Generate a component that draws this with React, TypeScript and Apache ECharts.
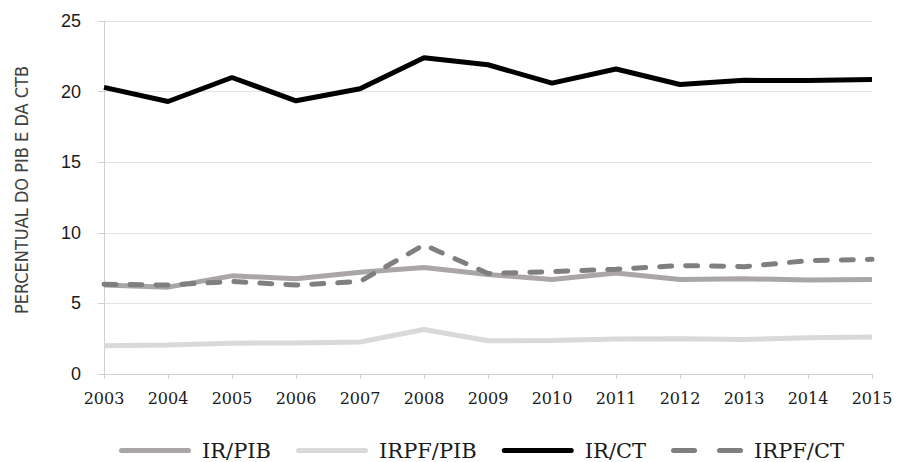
import React, { useEffect, useRef } from "react";
import * as echarts from "echarts";

const years = ["2003","2004","2005","2006","2007","2008","2009","2010","2011","2012","2013","2014","2015"];
const irPib = [6.3, 6.15, 6.95, 6.75, 7.2, 7.55, 7.05, 6.7, 7.15, 6.7, 6.75, 6.65, 6.7];
const irpfPib = [2.0, 2.05, 2.18, 2.2, 2.27, 3.15, 2.35, 2.38, 2.47, 2.5, 2.45, 2.57, 2.62];
const irCt = [20.3, 19.3, 21.0, 19.35, 20.2, 22.4, 21.9, 20.6, 21.6, 20.5, 20.8, 20.78, 20.85];
const irpfCt = [6.35, 6.3, 6.55, 6.3, 6.55, 9.15, 7.12, 7.25, 7.42, 7.68, 7.6, 8.03, 8.12];
const seriesNames = ["IR/PIB", "IRPF/PIB", "IR/CT", "IRPF/CT"];
const yTicks = [0, 5, 10, 15, 20, 25];
const yAxisTitle = "PERCENTUAL DO PIB E DA CTB";

const solidIcon =
  "path://M2.5,0 L69.5,0 A2.5,2.5 0 0 1 69.5,5 L2.5,5 A2.5,2.5 0 0 1 2.5,0 Z";
const dashedIcon =
  "path://M2.5,0 L23.5,0 A2.5,2.5 0 0 1 23.5,5 L2.5,5 A2.5,2.5 0 0 1 2.5,0 Z M48.5,0 L69.5,0 A2.5,2.5 0 0 1 69.5,5 L48.5,5 A2.5,2.5 0 0 1 48.5,0 Z";

export default function App() {
  const ref = useRef<HTMLDivElement>(null);
  useEffect(() => {
    const chart = echarts.init(ref.current!, null, { renderer: "svg" });
    const mk = (name: string, data: number[], color: string, dashed = false) => ({
      name,
      type: "line",
      data,
      symbol: "none",
      lineStyle: {
        color,
        width: 5,
        cap: dashed ? "round" : "butt",
        type: dashed ? [12, 14] : "solid",
      },
      itemStyle: { color },
    });
    chart.setOption({
      animation: false,
      backgroundColor: "#ffffff",
      grid: { left: 104, right: 25, top: 21, bottom: 88, containLabel: false },
      xAxis: {
        type: "category",
        data: years,
        boundaryGap: false,
        axisLine: { lineStyle: { color: "#d0d0d0", width: 1 } },
        axisTick: { show: true, length: 5, lineStyle: { color: "#d0d0d0" } },
        axisLabel: {
          fontFamily: "DejaVu Serif",
          fontSize: 16,
          color: "#1a1a1a",
          margin: 16,
        },
        splitLine: { show: false },
      },
      yAxis: {
        type: "value",
        min: yTicks[0],
        max: yTicks[yTicks.length - 1],
        interval: 5,
        axisLine: { show: true, lineStyle: { color: "#d0d0d0", width: 1 } },
        axisTick: { show: true, length: 6, inside: false, lineStyle: { color: "#d0d0d0" } },
        axisLabel: {
          fontFamily: "Liberation Sans",
          fontSize: 18,
          color: "#1a1a1a",
          margin: 23,
        },
        splitLine: { show: true, lineStyle: { color: "#e3e3e3", width: 1 } },
      },
      legend: {
        data: [
          { name: seriesNames[0], icon: solidIcon },
          { name: seriesNames[1], icon: solidIcon },
          { name: seriesNames[2], icon: solidIcon },
          { name: seriesNames[3], icon: dashedIcon },
        ],
        top: 440,
        left: 114,
        padding: [0, 5, 0, 5],
        itemWidth: 72,
        itemHeight: 5,
        itemGap: 25,
        textStyle: {
          fontFamily: "DejaVu Serif",
          fontSize: 21,
          lineHeight: 21,
          color: "#1a1a1a",
          padding: [0, 0, 0, 6],
        },
      },
      graphic: [
        {
          type: "text",
          x: 21,
          y: 190,
          rotation: Math.PI / 2,
          style: {
            text: yAxisTitle,
            fontFamily: "DejaVu Sans Condensed, DejaVu Sans",
            fontWeight: 300,
            fontSize: 18,
            fill: "#404040",
            align: "center",
            verticalAlign: "middle",
          },
        },
      ],
      series: [
        mk(seriesNames[0], irPib, "#aaa6a6"),
        mk(seriesNames[1], irpfPib, "#d9d9d9"),
        mk(seriesNames[2], irCt, "#000000"),
        mk(seriesNames[3], irpfCt, "#7f7f7f", true),
      ],
    });
    return () => chart.dispose();
  }, []);
  return <div ref={ref} style={{ position: "fixed", left: 0, top: 0, width: 897, height: 462 }} />;
}
